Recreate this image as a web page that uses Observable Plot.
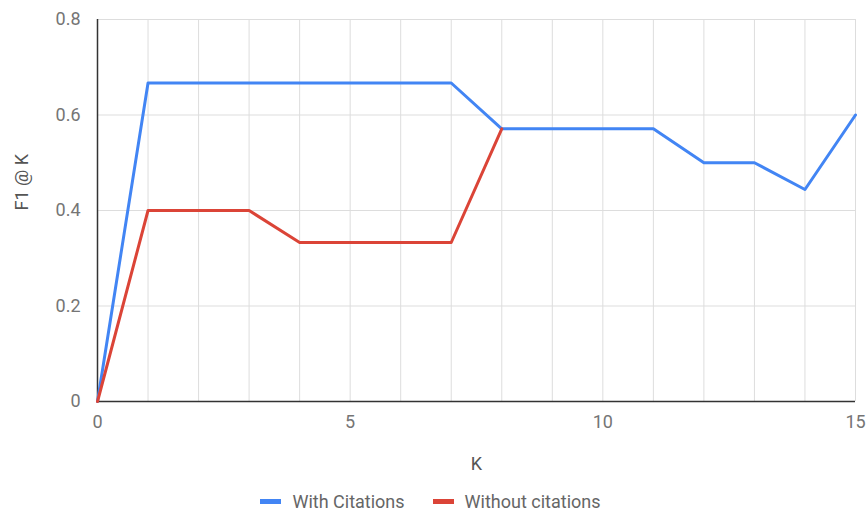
<!DOCTYPE html>
<html>
<head>
<meta charset="utf-8">
<script src="https://cdn.jsdelivr.net/npm/d3@7"></script>
<script src="https://cdn.jsdelivr.net/npm/@observablehq/plot@0.6"></script>
<style>
  body { margin: 0; background: #fff; font-family: Roboto, sans-serif; }
  #legend { display: flex; justify-content: center; align-items: center; gap: 28px; font-size: 18px; color: #666; height: 22px; margin-left: -6px; }
  .sw { display: inline-block; width: 21px; height: 5px; margin-right: 11px; vertical-align: middle; position: relative; top: -1px; }
</style>
</head>
<body>
<div id="chart"></div>
<div id="legend"></div>
<script>
const kValues = [0,1,2,3,4,5,6,7,8,9,10,11,12,13,14,15];
const withCitations = [0,0.667,0.667,0.667,0.667,0.667,0.667,0.667,0.571,0.571,0.571,0.571,0.5,0.5,0.444,0.6];
const kWithout = [0,1,2,3,4,5,6,7,8];
const withoutCitations = [0,0.4,0.4,0.4,0.333,0.333,0.333,0.333,0.571];
const seriesNames = ["With Citations", "Without citations"];
const seriesColors = ["#4285F4", "#DB4437"];
const xTicks = [0,5,10,15];
const yTicks = [0,0.2,0.4,0.6,0.8];

const dataWith = kValues.map((k,i) => ({k, v: withCitations[i]}));
const dataWithout = kWithout.map((k,i) => ({k, v: withoutCitations[i]}));

const plot = Plot.plot({
  width: 867,
  height: 490,
  marginLeft: 97,
  marginRight: 12,
  marginTop: 19,
  marginBottom: 89,
  style: {fontFamily: "Roboto, sans-serif", fontSize: "18px", color: "#757575", background: "#fff"},
  x: {domain: [0, 15], label: null},
  y: {domain: [0, 0.8], label: null},
  marks: [
    Plot.gridX(kValues, {stroke: "#ddd", strokeOpacity: 1, strokeWidth: 1}),
    Plot.gridY(yTicks, {stroke: "#ddd", strokeOpacity: 1, strokeWidth: 1}),
    Plot.axisX({ticks: xTicks, tickSize: 0, tickPadding: 14, fill: "#757575", fontSize: 18, label: null}),
    Plot.axisY({ticks: yTicks, tickSize: 0, tickPadding: 17, fill: "#757575", fontSize: 18, label: null,
      tickFormat: d => d === 0 ? "0" : d.toFixed(1)}),
    Plot.ruleX([0], {stroke: "#333", strokeWidth: 1.5}),
    Plot.ruleY([0], {stroke: "#333", strokeWidth: 1.5}),
    Plot.line(dataWith, {x: "k", y: "v", stroke: seriesColors[0], strokeWidth: 3}),
    Plot.line(dataWithout, {x: "k", y: "v", stroke: seriesColors[1], strokeWidth: 3}),
    Plot.text(["K"], {frameAnchor: "bottom", dy: 68, text: d => d, fill: "#555", fontSize: 18}),
    Plot.text(["F1 @ K"], {frameAnchor: "left", dx: -75, rotate: -90, text: d => d, fill: "#555", fontSize: 18})
  ]
});
document.getElementById("chart").appendChild(plot);

const legend = document.getElementById("legend");
seriesNames.forEach((name, i) => {
  const item = document.createElement("span");
  item.innerHTML = `<span class="sw" style="background:${seriesColors[i]}"></span>${name}`;
  legend.appendChild(item);
});
</script>
</body>
</html>
